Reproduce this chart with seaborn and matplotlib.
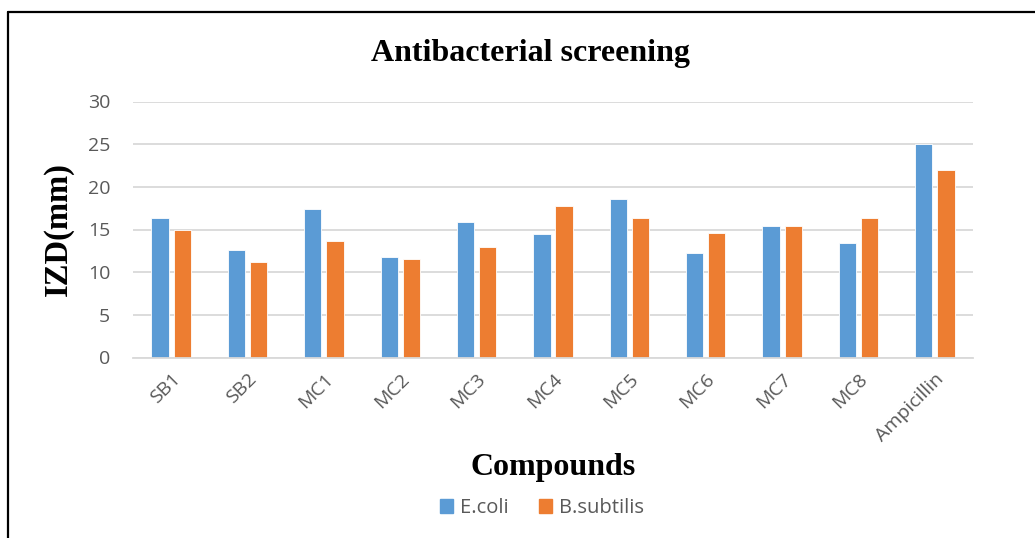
import matplotlib
matplotlib.use("Agg")
import matplotlib.pyplot as plt
import seaborn as sns
import pandas as pd
from matplotlib.lines import Line2D

compounds = ["SB1", "SB2", "MC1", "MC2", "MC3", "MC4", "MC5", "MC6", "MC7", "MC8", "Ampicillin"]
ecoli = [16.3, 12.6, 17.4, 11.8, 15.9, 14.5, 18.6, 12.3, 15.4, 13.4, 25.0]
bsubtilis = [14.9, 11.2, 13.6, 11.5, 13.0, 17.8, 16.4, 14.6, 15.4, 16.3, 22.0]
series_names = ["E.coli", "B.subtilis"]
yticks = [0, 5, 10, 15, 20, 25, 30]

df = pd.DataFrame({
    "Compound": compounds * 2,
    "Series": [series_names[0]] * len(compounds) + [series_names[1]] * len(compounds),
    "IZD": ecoli + bsubtilis,
})

sns.set_theme(style="white")
plt.rcParams["font.family"] = ["Open Sans", "DejaVu Sans"]

fig = plt.figure(figsize=(10.35, 5.38), dpi=100)
ax = fig.add_axes([133 / 1035, 1 - 357.5 / 538, 840 / 1035, 256 / 538])

palette = {"E.coli": "#5B9BD5", "B.subtilis": "#ED7D31"}
sns.barplot(data=df, x="Compound", y="IZD", hue="Series", palette=palette,
            width=0.58, gap=0.22, ax=ax, edgecolor="white", linewidth=0.6,
            legend=False, saturation=1)

ax.set_ylim(0, 30)
ax.set_yticks(yticks)
ax.set_xlim(-0.5, len(compounds) - 0.5)
ax.yaxis.grid(True, color="#D9D9D9", linewidth=1.3)
ax.set_axisbelow(True)
for s in ["top", "right", "left"]:
    ax.spines[s].set_visible(False)
ax.spines["bottom"].set_color("#D9D9D9")
ax.spines["bottom"].set_linewidth(1.3)
ax.tick_params(axis="both", length=0, colors="#595959", labelsize=14)
ax.tick_params(axis="y", pad=16.5)
plt.setp(ax.get_xticklabels(), rotation=45, ha="right", rotation_mode="anchor")
ax.tick_params(axis="x", pad=9)

ax.set_xlabel("Compounds", fontfamily="Liberation Serif", fontweight="bold",
              fontsize=23, color="black", labelpad=6)
ax.set_ylabel("IZD(mm)", fontfamily="Liberation Serif", fontweight="bold",
              fontsize=23.5, color="black", labelpad=10)
fig.text(0.5125, 1 - 53 / 538, "Antibacterial screening", ha="center", va="center",
         fontfamily="Liberation Serif", fontweight="bold", fontsize=23, color="black")

handles = [plt.Rectangle((0, 0), 1, 1, color=palette[n]) for n in series_names]
fig.legend(handles, series_names, loc="center", bbox_to_anchor=(0.524, 1 - 508 / 538),
           ncol=2, frameon=False, fontsize=14.5, labelcolor="#595959",
           handlelength=0.65, handleheight=0.65, handletextpad=0.35, columnspacing=1.5)

# partial frame (top and left edges)
fig.add_artist(Line2D([8 / 1035, 8 / 1035], [0, 1 - 12 / 538], transform=fig.transFigure,
                      color="black", linewidth=1.6))
fig.add_artist(Line2D([8 / 1035, 1], [1 - 12 / 538, 1 - 12 / 538], transform=fig.transFigure,
                      color="black", linewidth=1.6))

fig.savefig("out.png", dpi=100)
